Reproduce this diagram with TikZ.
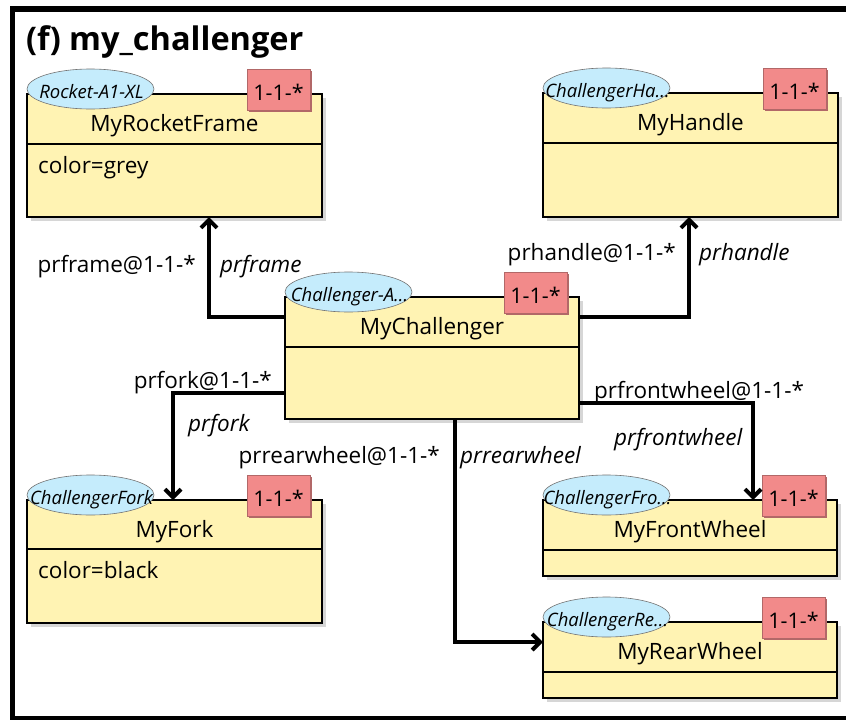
\documentclass[tikz,border=0pt]{standalone}
\usepackage{fontspec}
\setmainfont{Open Sans}
\usetikzlibrary{arrows.meta,shapes.geometric,calc}
\definecolor{clsfill}{HTML}{FFF3B3}
\definecolor{ellfill}{HTML}{C5ECFC}
\definecolor{redfill}{HTML}{F28A8A}
\definecolor{redline}{HTML}{B26868}
\definecolor{shadowc}{HTML}{D6D6D6}
\newcommand\umlclass[9]{%
  \fill[shadowc] (#2+4,#3+4) rectangle (#4+4,#5+4);
  \node[clsbox, minimum width={#4-#2}, minimum height={#5-#3}, anchor=north west] (#1) at (#2,#3) {};
  \draw[divline] (#2,#6) -- (#4,#6);
  \node[clsname] (#1-name) at ({(#2+#4)/2}, #3+37) {#8};
  \node[attrtext] (#1-attr) at (#2+11, #6+29) {#9};
  \node[stereo] (#1-stereo) at (#2+63.5, #3-5) {};
  \node[stereotext] (#1-stext) at (#2+64.5, #3+4) {#7};
  \fill[redline] (#4-12-63+1.5,#3-25+1.5) rectangle (#4-12+1.5,#3+16+1.5);
  \node[mult] (#1-mult) at (#4-12-31.5, #3-4.5) {};
  \node[multtext] (#1-mtext) at (#4-12-31.5, #3+6) {1-1-*};
}
\begin{document}
\begin{tikzpicture}[x=1pt,y=-1pt,
  clsbox/.style={draw, line width=2.6pt, fill=clsfill, rectangle, inner sep=0pt, outer sep=0pt},
  divline/.style={line width=2pt},
  clsname/.style={font=\fontsize{22.5}{26}\selectfont, inner sep=0pt, anchor=base},
  attrtext/.style={font=\fontsize{22.5}{26}\selectfont, anchor=base west, inner sep=0pt},
  stereo/.style={ellipse, draw=black!55, line width=0.6pt, fill=ellfill, minimum width=127pt, minimum height=40pt, inner sep=0pt},
  stereotext/.style={font=\itshape\fontsize{18.5}{20}\selectfont, inner sep=0pt, anchor=base},
  mult/.style={rectangle, fill=redfill, draw=redline, line width=0.6pt, minimum width=63pt, minimum height=41pt, inner sep=0pt},
  multtext/.style={font=\fontsize{21.5}{24}\selectfont, inner sep=0pt, anchor=base},
  conn/.style={line width=4pt, -{Straight Barb[length=8pt,width=16pt]}},
  lbl/.style={font=\fontsize{22.5}{26}\selectfont, inner sep=0pt},
  ilbl/.style={font=\itshape\fontsize{22.5}{26}\selectfont, inner sep=0pt},
]
\useasboundingbox (0,0) rectangle (846,720);
\fill[white] (0,0) rectangle (846,720);
\draw[line width=5.5pt] (852,9) -- (12.5,9) -- (12.5,718.5) -- (852,718.5);
\node[font=\bfseries\fontsize{32.5}{36}\selectfont, anchor=base west, inner sep=0pt] (title) at (26,50) {(f) my\_challenger};

\umlclass{rf}{27}{94}{322}{217}{144}{Rocket-A1-XL}{MyRocketFrame}{color=grey}
\umlclass{hd}{543}{93}{838}{217}{143}{ChallengerHa…}{MyHandle}{}
\umlclass{ch}{285}{297}{579}{419}{347}{Challenger-A…}{MyChallenger}{}
\umlclass{fk}{27}{500}{322}{623}{549}{ChallengerFork}{MyFork}{color=black}
\umlclass{fw}{543}{500}{837}{576}{550}{ChallengerFro…}{MyFrontWheel}{}
\umlclass{rw}{543}{622}{837}{698}{672}{ChallengerRe…}{MyRearWheel}{}

\coordinate (jf) at (209,317);
\coordinate (jh) at (689,317);
\coordinate (jk) at (173,393);
\coordinate (jw) at (753,403);
\coordinate (jr) at (455,642);

\draw[conn] (ch.west |- jf) -| (rf.south -| jf);
\draw[conn] (ch.east |- jh) -| (hd.south -| jh);
\draw[conn] (ch.west |- jk) -| (fk.north -| jk);
\draw[conn] (ch.east |- jw) -| (fw.north -| jw);
\draw[conn] (ch.south -| jr) |- (rw.west |- jr);

\node[lbl, anchor=base east] (l1) at (196,272) {prframe@1-1-*};
\node[ilbl, anchor=base west] (l2) at (220,272) {prframe};
\node[lbl, anchor=base east] (l3) at (676,260) {prhandle@1-1-*};
\node[ilbl, anchor=base west] (l4) at (699,260) {prhandle};
\node[lbl, anchor=base east] (l5) at (272,388) {prfork@1-1-*};
\node[ilbl, anchor=base west] (l6) at (188,431) {prfork};
\node[lbl, anchor=base east] (l7) at (440,463) {prrearwheel@1-1-*};
\node[ilbl, anchor=base west] (l8) at (460,463) {prrearwheel};
\node[lbl, anchor=base west] (l9) at (594,398) {prfrontwheel@1-1-*};
\node[ilbl, anchor=base west] (l10) at (614,445) {prfrontwheel};
\end{tikzpicture}
\end{document}
